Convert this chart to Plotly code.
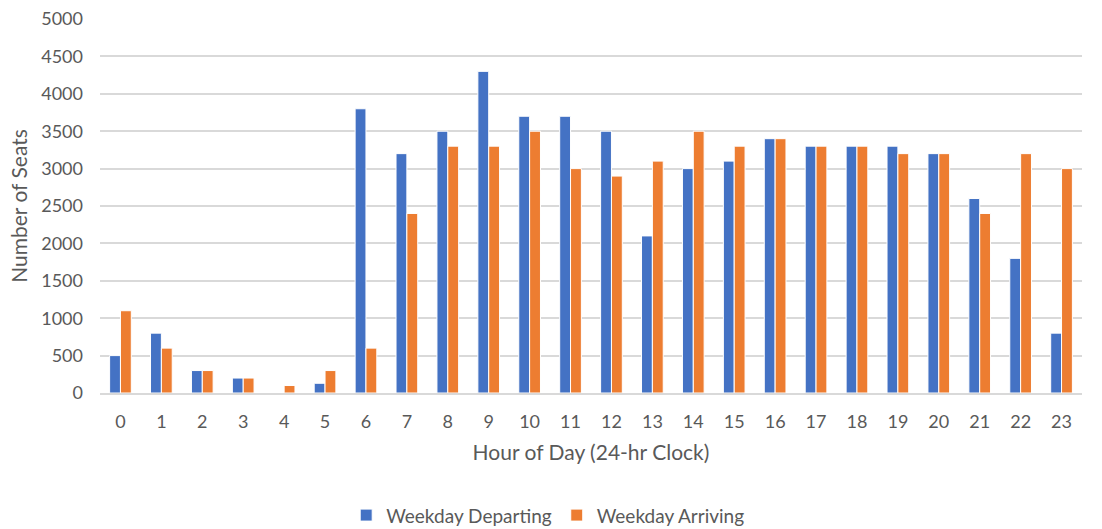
import plotly.graph_objects as go

hours = [str(h) for h in range(24)]
departing = [500, 800, 300, 200, 0, 130, 3800, 3200, 3500, 4300, 3700, 3700,
             3500, 2100, 3000, 3100, 3400, 3300, 3300, 3300, 3200, 2600, 1800, 800]
arriving = [1100, 600, 300, 200, 100, 300, 600, 2400, 3300, 3300, 3500, 3000,
            2900, 3100, 3500, 3300, 3400, 3300, 3300, 3200, 3200, 2400, 3200, 3000]

font_family = "Lato, 'Open Sans', sans-serif"
text_color = "#595959"

fig = go.Figure()
fig.add_trace(go.Bar(x=hours, y=departing, name="Weekday Departing",
                     marker=dict(color="#4472C4", line=dict(color="white", width=1))))
fig.add_trace(go.Bar(x=hours, y=arriving, name="Weekday Arriving",
                     marker=dict(color="#ED7D31", line=dict(color="white", width=1))))

fig.update_layout(
    width=1102, height=529,
    margin=dict(l=100, r=20, t=19, b=136, autoexpand=False),
    plot_bgcolor="white", paper_bgcolor="white",
    barmode="group", bargap=0.47, bargroupgap=0.0,
    font=dict(family=font_family, size=18, color=text_color),
    legend=dict(orientation="h", xref="container", yref="container",
                x=0.497, xanchor="center", y=0.026, yanchor="middle",
                font=dict(size=19, color=text_color), itemwidth=30, tracegroupgap=0),
    xaxis=dict(type="category", range=[-0.5, 23.5], showgrid=False, automargin=False,
               showline=True, linecolor="#D9D9D9", linewidth=1.5,
               ticks="", ticklabelstandoff=12, tickfont=dict(size=18),
               title=dict(text="Hour of Day (24-hr Clock)", standoff=14,
                          font=dict(size=21, color=text_color))),
    yaxis=dict(range=[0, 5000], dtick=500, showgrid=True, gridcolor="#D9D9D9",
               gridwidth=1.5, zeroline=False, ticks="", ticklabelstandoff=16,
               automargin=False, tickfont=dict(size=18),
               title=dict(text="Number of Seats", standoff=7,
                          font=dict(size=21, color=text_color))),
)

fig.write_html("out.html", config={"displayModeBar": False},
               post_script="document.body.style.margin='0';")
